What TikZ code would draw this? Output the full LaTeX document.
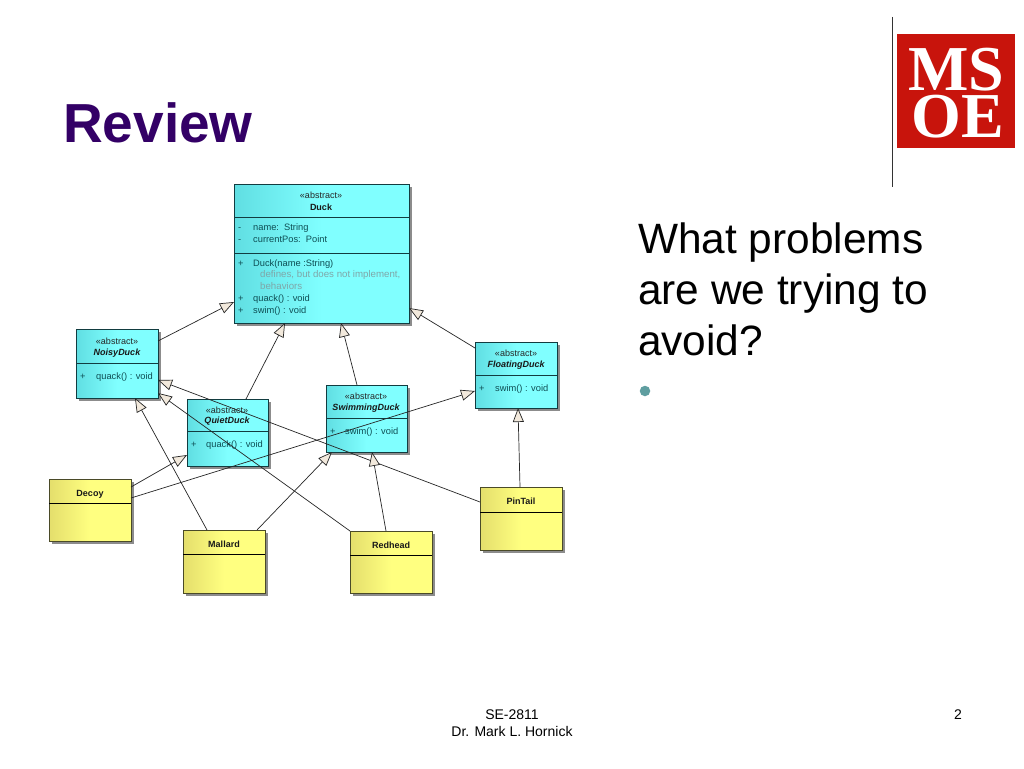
\documentclass[tikz,border=0pt]{standalone}
\usepackage{fontspec}
\setmainfont{Liberation Sans}
\newfontfamily\logofont{Liberation Serif}
\usetikzlibrary{arrows.meta}
\usetikzlibrary{shadows}
\definecolor{titlecolor}{HTML}{330066}
\definecolor{cyanleft}{HTML}{60DEE2}
\definecolor{cyanright}{HTML}{80FFFF}
\definecolor{yellowleft}{HTML}{E4DE6C}
\definecolor{yellowright}{HTML}{FFFF80}
\definecolor{cyanborder}{HTML}{123C40}
\definecolor{yellowborder}{HTML}{4A4A28}
\definecolor{tipcolor}{HTML}{F2E9DC}
\definecolor{membercolor}{HTML}{0E4E54}
\definecolor{notecolor}{HTML}{7FA6A8}
\definecolor{logored}{HTML}{C8140C}
\definecolor{bulletcolor}{HTML}{5F9EA0}
\tikzset{
    classbox/.style={rectangle,anchor=north west,inner sep=0,outer sep=0,line width=1pt,
        drop shadow={shadow xshift=3pt,shadow yshift=-3pt,fill=black,opacity=.45}},
    cyanbox/.style={classbox,draw=cyanborder,left color=cyanleft,right color=cyanright,middle color=cyanright},
    yellowbox/.style={classbox,draw=yellowborder,left color=yellowleft,right color=yellowright,middle color=yellowright},
    stereo/.style={anchor=base,inner sep=0,font=\fontsize{9}{9}\selectfont,text=black!85},
    classname/.style={anchor=base,inner sep=0,font=\fontsize{9}{9}\selectfont\bfseries\itshape,text=black!90},
    plainname/.style={anchor=base,inner sep=0,font=\fontsize{9}{9}\selectfont\bfseries,text=black!90},
    member/.style={anchor=base west,inner sep=0,font=\fontsize{9.3}{9}\selectfont,text=membercolor},
    note/.style={member,font=\fontsize{9.7}{9}\selectfont,text=notecolor},
    inherit/.style={draw=black!85,line width=.7pt,arrows=-{Triangle[open,fill=tipcolor,length=14pt,width=11pt]}}
}
\begin{document}
\begin{tikzpicture}[x=1pt,y=-1pt]

            \useasboundingbox (0,0) rectangle (1024,768);
            \fill[white] (0,0) rectangle (1024,768);

            % slide
            \path   (63,142) node (title) [anchor=base west,inner sep=0,font=\fontsize{55}{55}\selectfont\bfseries,text=titlecolor] {Review}
                    (638,253) node (ask1) [anchor=base west,inner sep=0,font=\fontsize{42.4}{42}\selectfont] {What problems}
                    (638,304) node (ask2) [anchor=base west,inner sep=0,font=\fontsize{42.4}{42}\selectfont] {are we trying to}
                    (638,355) node (ask3) [anchor=base west,inner sep=0,font=\fontsize{42.4}{42}\selectfont] {avoid?}
                    (645,391) node (bullet) [circle,inner sep=0,minimum size=10.5pt,fill=bulletcolor] {}
                    (512,719) node (course) [anchor=base,inner sep=0,font=\fontsize{14}{14}\selectfont] {SE-2811}
                    (512,736) node (teacher) [anchor=base,inner sep=0,font=\fontsize{14}{14}\selectfont] {Dr. Mark L. Hornick}
                    (958,719) node (page) [anchor=base,inner sep=0,font=\fontsize{14}{14}\selectfont] {2};

            % logo
            \path   (892,17) coordinate (ruletop)
                    (892,187) coordinate (rulebottom)
                    (897,34) node (logo) [anchor=north west,inner sep=0,minimum width=118pt,minimum height=114pt,fill=logored] {}
                    (956.5,90) node (ms) [anchor=base,inner sep=0,font=\logofont\bfseries\fontsize{64}{64}\selectfont,text=white] {MS}
                    (957.5,137.5) node (oe) [anchor=base,inner sep=0,font=\logofont\bfseries\fontsize{64}{64}\selectfont,text=white] {OE};
            \draw[line width=1pt,black!80] (ruletop) -- (rulebottom);

            % classes
            \path   (234,184) node (duck) [cyanbox,minimum width=175pt,minimum height=139pt] {}
                    (76,329) node (noisy) [cyanbox,minimum width=82pt,minimum height=69pt] {}
                    (187,399) node (quiet) [cyanbox,minimum width=81pt,minimum height=67pt] {}
                    (326,385) node (swimming) [cyanbox,minimum width=81pt,minimum height=67pt] {}
                    (475,342) node (floating) [cyanbox,minimum width=82pt,minimum height=66pt] {}
                    (49,479) node (decoy) [yellowbox,minimum width=82pt,minimum height=62pt] {}
                    (183,530) node (mallard) [yellowbox,minimum width=82pt,minimum height=63pt] {}
                    (350,531) node (redhead) [yellowbox,minimum width=82pt,minimum height=62pt] {}
                    (480,487) node (pintail) [yellowbox,minimum width=82pt,minimum height=63pt] {};

            \draw[cyanborder,line width=1pt] ([yshift=-33pt]duck.north west) -- ([yshift=-33pt]duck.north east);
            \draw[cyanborder,line width=1pt] ([yshift=-69pt]duck.north west) -- ([yshift=-69pt]duck.north east);
            \draw[cyanborder,line width=1pt] ([yshift=-34pt]noisy.north west) -- ([yshift=-34pt]noisy.north east);
            \draw[cyanborder,line width=1pt] ([yshift=-32pt]quiet.north west) -- ([yshift=-32pt]quiet.north east);
            \draw[cyanborder,line width=1pt] ([yshift=-33pt]swimming.north west) -- ([yshift=-33pt]swimming.north east);
            \draw[cyanborder,line width=1pt] ([yshift=-33pt]floating.north west) -- ([yshift=-33pt]floating.north east);
            \draw[black,line width=.8pt] ([yshift=-24pt]decoy.north west) -- ([yshift=-24pt]decoy.north east);
            \draw[black,line width=.8pt] ([yshift=-24pt]mallard.north west) -- ([yshift=-24pt]mallard.north east);
            \draw[black,line width=.8pt] ([yshift=-24pt]redhead.north west) -- ([yshift=-24pt]redhead.north east);
            \draw[black,line width=.8pt] ([yshift=-25pt]pintail.north west) -- ([yshift=-25pt]pintail.north east);

            % class texts
            \path   (321,198) node (duckstereo) [stereo] {«abstract»}
                    (321,210) node (duckname) [plainname] {Duck}
                    (238,230) node (m1) [member] {-}
                    (253,230) node (m2) [member] {name:\ \ String}
                    (238,242) node (m3) [member] {-}
                    (253,242) node (m4) [member] {currentPos:\ \ Point}
                    (238,266) node (m5) [member] {+}
                    (253,266) node (m6) [member] {Duck(name :String)}
                    (260,277) node (m7) [note] {defines, but does not implement,}
                    (260,289) node (m8) [note] {behaviors}
                    (238,301) node (m9) [member] {+}
                    (253,301) node (m10) [member] {quack() : void}
                    (238,313) node (m11) [member] {+}
                    (253,313) node (m12) [member] {swim() : void}

                    (117,344) node (noisystereo) [stereo] {«abstract»}
                    (117,355) node (noisyname) [classname] {NoisyDuck}
                    (80,379) node (n1) [member] {+}
                    (96,379) node (n2) [member] {quack() : void}

                    (227,413) node (quietstereo) [stereo] {«abstract»}
                    (227,423) node (quietname) [classname] {QuietDuck}
                    (191,447) node (q1) [member] {+}
                    (206,447) node (q2) [member] {quack() : void}

                    (366,399) node (swimmingstereo) [stereo] {«abstract»}
                    (366,410) node (swimmingname) [classname] {SwimmingDuck}
                    (330,434) node (s1) [member] {+}
                    (345,434) node (s2) [member] {swim() : void}

                    (516,356) node (floatingstereo) [stereo] {«abstract»}
                    (516,367) node (floatingname) [classname] {FloatingDuck}
                    (479,391) node (f1) [member] {+}
                    (495,391) node (f2) [member] {swim() : void}

                    (90,496) node (decoyname) [plainname] {Decoy}
                    (224,547) node (mallardname) [plainname] {Mallard}
                    (391,548) node (redheadname) [plainname] {Redhead}
                    (521,504) node (pintailname) [plainname] {PinTail};

            % inheritance
            \draw[inherit] ([yshift=-12pt]noisy.north east) -- ([yshift=21pt]duck.south west);
            \draw[inherit] ([xshift=59pt]quiet.north west) -- ([xshift=51pt]duck.south west);
            \draw[inherit] ([xshift=31pt]swimming.north west) -- ([xshift=107pt]duck.south west);
            \draw[inherit] ([yshift=-6pt]floating.north west) -- ([yshift=15pt]duck.south east);
            \draw[inherit] ([xshift=40pt]pintail.north west) -- ([xshift=43pt]floating.south west);
            \draw[inherit] ([yshift=-15pt]pintail.north west) -- ([yshift=-51pt]noisy.north east);
            \draw[inherit] (redhead.north west) -- ([yshift=5pt]noisy.south east);
            \draw[inherit] ([xshift=36pt]redhead.north west) -- ([xshift=46pt]swimming.south west);
            \draw[inherit] ([xshift=24pt]mallard.north west) -- ([xshift=59pt]noisy.south west);
            \draw[inherit] ([xshift=74pt]mallard.north west) -- ([xshift=6pt]swimming.south west);
            \draw[inherit] ([yshift=-8pt]decoy.north east) -- ([yshift=11pt]quiet.south west);
            \draw[inherit] ([yshift=-19pt]decoy.north east) -- ([yshift=17pt]floating.south west);
\end{tikzpicture}
\end{document}
